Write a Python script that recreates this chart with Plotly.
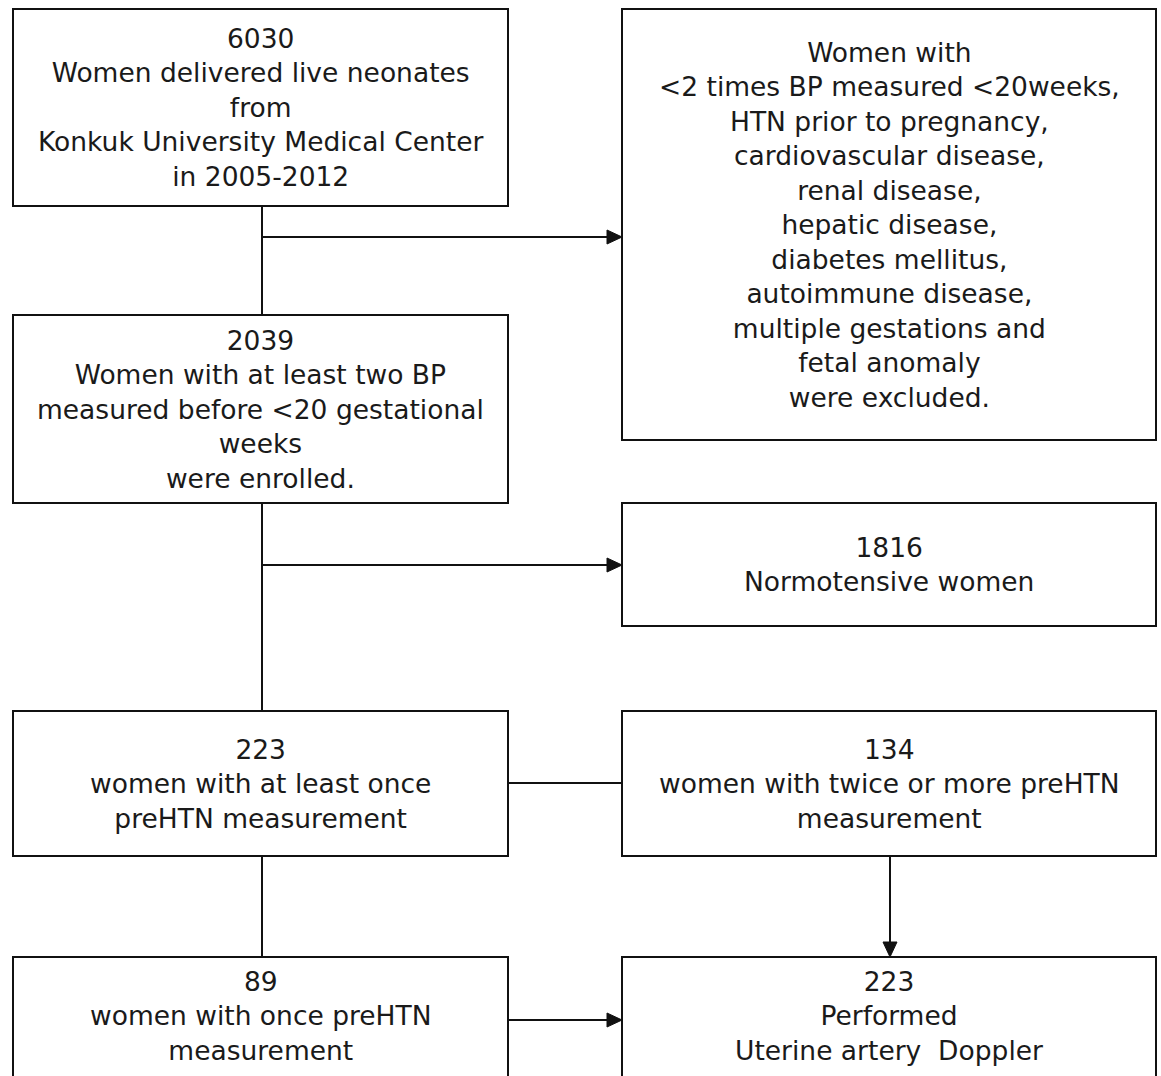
import plotly.graph_objects as go

# ---- content (texts of the flowchart boxes) ----
box_names = ["start", "excluded", "enrolled", "normo", "once_more", "twice", "once", "doppler"]
box_counts = ["6030", "", "2039", "1816", "223", "134", "89", "223"]
box_texts = [
    ["Women delivered live neonates", "from", "Konkuk University Medical Center", "in 2005-2012"],
    ["Women with", "&lt;2 times BP measured &lt;20weeks,", "HTN prior to pregnancy,",
     "cardiovascular disease,", "renal disease,", "hepatic disease,", "diabetes mellitus,",
     "autoimmune disease,", "multiple gestations and", "fetal anomaly", "were excluded."],
    ["Women with at least two BP", "measured before &lt;20 gestational", "weeks", "were enrolled."],
    ["Normotensive women"],
    ["women with at least once", "preHTN measurement"],
    ["women with twice or more preHTN", "measurement"],
    ["women with once preHTN", "measurement"],
    ["Performed", "Uterine artery  Doppler"],
]

# ---- layout geometry (pixels, y downward) ----
W, H = 1161, 1076
LX0, LX1 = 13, 508
RX0, RX1 = 622, 1156
geom = {
    "start":     (LX0, LX1, 9, 206),
    "excluded":  (RX0, RX1, 9, 440),
    "enrolled":  (LX0, LX1, 315, 503),
    "normo":     (RX0, RX1, 503, 626),
    "once_more": (LX0, LX1, 711, 856),
    "twice":     (RX0, RX1, 711, 856),
    "once":      (LX0, LX1, 957, 1100),
    "doppler":   (RX0, RX1, 957, 1100),
}
text_center_override = {"once": 1016, "doppler": 1016}

LC = (LX0 + LX1) / 2 + 1.5   # left column connector x
RC = 890                      # right column connector x

LINE = dict(color="#111111", width=2)
FONT = dict(family="DejaVu Sans, Noto Sans, sans-serif", size=26.5, color="#1a1a1a")

fig = go.Figure()
shapes = []
annotations = []

for name, count, lines in zip(box_names, box_counts, box_texts):
    x0, x1, y0, y1 = geom[name]
    shapes.append(dict(type="rect", xref="x", yref="y", x0=x0, x1=x1, y0=y0, y1=y1,
                       line=LINE, fillcolor="white", layer="below"))
    txt = "<br>".join(([count] if count else []) + lines)
    yc = text_center_override.get(name, (y0 + y1) / 2)
    annotations.append(dict(x=(x0 + x1) / 2, y=yc, xref="x", yref="y", text=txt,
                            showarrow=False, font=FONT, align="center",
                            xanchor="center", yanchor="middle"))

def seg(xa, ya, xb, yb):
    shapes.append(dict(type="line", xref="x", yref="y", x0=xa, y0=ya, x1=xb, y1=yb, line=LINE))

def head_right(x, y, L=15, w=7):
    shapes.append(dict(type="path", xref="x", yref="y",
                       path=f"M {x},{y} L {x-L},{y-w} L {x-L},{y+w} Z",
                       fillcolor="#111111", line=dict(color="#111111", width=1)))

def head_down(x, y, L=15, w=7):
    shapes.append(dict(type="path", xref="x", yref="y",
                       path=f"M {x},{y} L {x-w},{y-L} L {x+w},{y-L} Z",
                       fillcolor="#111111", line=dict(color="#111111", width=1)))

# start -> enrolled, with branch to excluded
seg(LC, 206, LC, 315)
seg(LC, 237, RX0 - 12, 237)
head_right(RX0, 237)
# enrolled -> once_more, with branch to normo
seg(LC, 503, LC, 711)
seg(LC, 565, RX0 - 12, 565)
head_right(RX0, 565)
# once_more -- twice
seg(LX1, 783, RX0, 783)
# once_more -> once
seg(LC, 856, LC, 957)
# twice -> doppler
seg(RC, 856, RC, 945)
head_down(RC, 957)
# once -> doppler
seg(LX1, 1020, RX0 - 12, 1020)
head_right(RX0, 1020)

fig.update_layout(
    width=W, height=H,
    margin=dict(l=0, r=0, t=0, b=0),
    paper_bgcolor="white", plot_bgcolor="white",
    xaxis=dict(range=[0, W], visible=False, fixedrange=True),
    yaxis=dict(range=[H, 0], visible=False, fixedrange=True),
    shapes=shapes, annotations=annotations, showlegend=False,
)
fig.write_html(
    "out.html",
    config={"displayModeBar": False, "staticPlot": True},
    post_script=("document.body.style.margin='0';"
                 "document.documentElement.style.overflow='hidden';"),
)
